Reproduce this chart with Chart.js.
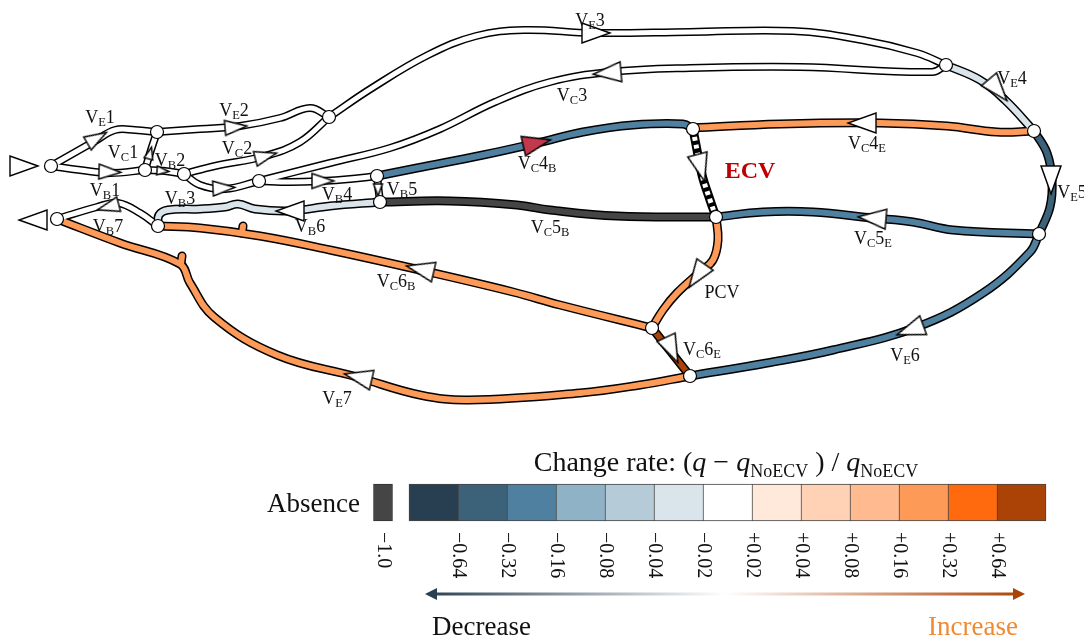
<!DOCTYPE html>
<html>
<head>
<meta charset="utf-8">
<script src="https://cdn.jsdelivr.net/npm/chart.js@4.4.1/dist/chart.umd.min.js"></script>
<style>
  html, body { margin: 0; padding: 0; background: #fff; }
  #wrap { width: 1084px; height: 640px; }
</style>
</head>
<body>
<div id="wrap"><canvas id="chart" width="1084" height="640"></canvas></div>
<script>
// colour scale of the change rate
const binEdges = [-0.64, -0.32, -0.16, -0.08, -0.04, -0.02, 0.02, 0.04, 0.08, 0.16, 0.32, 0.64];
const binTicks = ['−0.64', '−0.32', '−0.16', '−0.08', '−0.04', '−0.02', '+0.02', '+0.04', '+0.08', '+0.16', '+0.32', '+0.64'];
const binColors = ['#283f51', '#3b6279', '#4f809f', '#8fb2c7', '#b5cbd8', '#d9e4eb', '#ffffff',
                   '#ffe9db', '#ffd2b5', '#ffbb8f', '#fe9a58', '#ff6a0f', '#ac4306'];
const absenceColor = '#454545';
const absenceTick = '−1.0';

// junctions
const nodes = [[51,166],[157,132],[145,170],[184,174],[259,181],[329,117],[377,176],[380,202],
               [158,226],[57,219],[693,129],[716,217],[946,65],[1034,131],[1039,234],[652,328],[690,376]];

// vessel centre lines
const VE1 = [[51,166],[95,141],[115,130],[135,130],[157,132]];
const VB1 = [[51,166],[80,170],[110,173],[145,170]];
const VC1 = [[145,170],[151,150],[157,132]];
const VB2 = [[145,170],[165,171],[184,174]];
const VB3 = [[184,174],[200,185],[225,189],[259,181]];
const VC2 = [[184,174],[215,166],[265,156],[300,142],[329,117]];
const VE2 = [[157,132],[200,129],[240,126],[280,118],[310,108],[329,117]];
const VE3 = [[329,117],[372,88],[428,55],[476,36],[524,30],[593,33],[690,32],[793,31],[862,40],[917,53],[946,65]];
const VC3 = [[946,65],[932,72],[800,67],[690,68],[610,72],[550,82],[495,102],[440,129],[390,148],[330,163],[259,181]];
const VE4 = [[946,65],[980,80],[1005,100],[1034,131]];
const VB4 = [[259,181],[290,182],[322,181],[350,179],[377,176]];
const VB5 = [[377,176],[380,202]];
const VC4B = [[377,176],[417,168],[483,155],[537,143],[583,132],[633,125],[683,124],[693,129]];
const VC4E = [[1034,131],[997,132],[947,126],[880,123],[780,124],[693,128]];
const VE5 = [[1034,131],[1047,153],[1052,180],[1050,207],[1039,234]];
const VC5E = [[1039,234],[953,230],[913,222],[872,218],[813,212],[763,212],[716,217]];
const VC5B = [[380,202],[450,201],[517,205],[550,210],[617,216],[716,217]];
const VE6 = [[1039,234],[1030,252],[983,293],[917,327],[833,350],[767,363],[690,376]];
const VB6 = [[380,202],[330,206],[290,211],[255,209],[238,204],[225,207],[200,209],[168,210],[159,215],[158,226]];
const VB7 = [[158,226],[140,213],[118,203],[97,207],[57,219]];
const VC6B = [[652,328],[560,305],[513,292],[420,270],[330,250],[260,236],[200,228],[158,226]];
const VC6Bnub = [[242,233],[243,226]];
const PCV = [[716,217],[718,240],[713,260],[700,272],[677,293],[663,310],[652,328]];
const VC6E = [[652,328],[690,376]];
const VE7 = [[690,376],[640,385],[580,393],[469,400],[420,395],[357,377],[277,355],[214,317],[190,283],[180,264],[120,243],[57,219]];
const VE7nub = [[181,264],[182,256]];
const ECV = [[693,129],[697,150],[702,175],[710,200],[716,217]];

const veinPaths = [VE1, VB1, VC1, VB2, VB3, VC2, VE2, VE3, VC3, VE4, VB4, VB5, VC4B, VC4E, VE5,
                   VC5E, VC5B, VE6, VB6, VB7, VC6B, VC6Bnub, PCV, VC6E, VE7, VE7nub];
const veinRates = [0, 0, 0, 0, 0, 0, 0, 0, 0, -0.03, 0, 0, -0.2, 0.2, -0.4,
                   -0.2, -1.0, -0.2, -0.03, 0, 0.2, 0.2, 0.2, 0.7, 0.2, 0.2];

// flow arrows: x, y, heading (deg), size, fill
const arrows = [[24,166,0,'L','w'],[33,220,180,'L','w'],[97,138,-30,'M','w'],[110,172,2,'M','w'],
  [150,153,-75,'S','w'],[163,171,5,'S','w'],[224,188,-3,'M','w'],[266,156,-15,'M','w'],
  [236,127,-5,'M','w'],[596,33,0,'L','w'],[607,73,175,'L','w'],[998,90,50,'L','w'],
  [323,181,0,'M','w'],[378,190,90,'S','w'],[537,143,-13,'L','r'],[862,123,180,'L','w'],
  [701,168,75,'L','w'],[1051,180,90,'L','w'],[872,218,185,'L','w'],[910,330,160,'L','w'],
  [290,211,180,'L','w'],[108,207,165,'M','w'],[420,269,193,'L','w'],[697,276,125,'L','w'],
  [672,350,65,'L','w'],[358,377,193,'L','w']];

// vessel names
const labelTexts = ['V,E,1','V,B,1','V,C,1','V,B,2','V,B,3','V,C,2','V,E,2','V,B,4','V,B,5','V,B,6',
  'V,B,7','V,E,3','V,C,3','V,E,4','V,C,4,B','V,C,4,E','V,E,5','V,C,5,E','V,C,5,B','V,C,6,B',
  'PCV','V,C,6,E','V,E,6','V,E,7'];
const labelSpots = [[100,117],[105,190],[123,152],[170,160],[180,198],[237,148],[234,110],[337,194],
  [402,189],[310,226],[108,226],[590,20],[572,95],[1012,78],[537,163],[867,143],[1072,192],
  [873,238],[550,227],[396,281],[722,292],[702,349],[905,355],[337,398]];

const SERIF = '"Liberation Serif", "DejaVu Serif", serif';

function colorFor(rate) {
    if (rate <= -1) return absenceColor;
    return binColors[binEdges.filter(e => rate >= e).length];
}

function arrowImage(size, fill) {
    const dims = { L: [28, 20], M: [22, 15], S: [12, 9] }[size];
    const c = document.createElement('canvas');
    c.width = dims[0] + 4;
    c.height = dims[1] + 4;
    const g = c.getContext('2d');
    g.beginPath();
    g.moveTo(dims[0] + 2, c.height / 2);
    g.lineTo(2, 2);
    g.lineTo(2, dims[1] + 2);
    g.closePath();
    g.fillStyle = fill === 'r' ? '#c2384c' : '#ffffff';
    g.fill();
    g.lineWidth = 1.4;
    g.lineJoin = 'miter';
    g.strokeStyle = '#000';
    g.stroke();
    return c;
}

const toPts = p => p.map(([x, y]) => ({ x, y }));

const datasets = [];

datasets.push({
    data: toPts(nodes),
    pointRadius: 6.5,
    pointBackgroundColor: '#ffffff',
    pointBorderColor: '#000',
    pointBorderWidth: 1.2,
    order: 0,
});

datasets.push({
    data: arrows.map(a => ({ x: a[0], y: a[1] })),
    pointStyle: arrows.map(a => arrowImage(a[3], a[4])),
    pointRotation: arrows.map(a => a[2]),
    pointRadius: 5,
    order: 1,
});

veinPaths.forEach((path, i) => {
    const white = veinRates[i] === 0;
    datasets.push({
        data: toPts(path), showLine: true, pointRadius: 0, tension: 0.4,
        borderColor: '#000', borderWidth: white ? 8 : 9, borderCapStyle: 'round', order: 4,
    });
    datasets.push({
        data: toPts(path), showLine: true, pointRadius: 0, tension: 0.4,
        borderColor: colorFor(veinRates[i]), borderWidth: white ? 5 : 6, borderCapStyle: 'round', order: 3,
    });
});

// the new vessel, drawn striped
datasets.push({
    data: toPts(ECV), showLine: true, pointRadius: 0, tension: 0.4,
    borderColor: '#000', borderWidth: 9, order: 4,
});
datasets.push({
    data: toPts(ECV), showLine: true, pointRadius: 0, tension: 0.4,
    borderColor: '#fff', borderWidth: 5, borderDash: [4, 4], order: 2,
});

// colour bar
const cbLeft = 409, cbRight = 1046, cbTop = 484, cbBottom = 521;
const cellW = (cbRight - cbLeft) / binColors.length;

datasets.push({
    type: 'bar',
    data: binColors.map((c, i) => ({ x: cbLeft + cellW * (i + 0.5), y: [cbTop, cbBottom] })),
    backgroundColor: binColors,
    borderColor: '#444',
    borderWidth: ctx => ({ top: 1, bottom: 1, left: 1, right: ctx.dataIndex === binColors.length - 1 ? 1 : 0 }),
    borderSkipped: false,
    barThickness: cellW,
    grouped: false,
    order: 5,
});
datasets.push({
    type: 'bar',
    data: [{ x: 383, y: [cbTop, cbBottom] }],
    backgroundColor: absenceColor,
    borderColor: '#333',
    borderWidth: 1,
    borderSkipped: false,
    barThickness: 19,
    grouped: false,
    order: 5,
});

function drawVeinLabel(ctx, text, x, y) {
    const parts = text.split(',');
    const big = 18, small = 12.5;
    let total = 0;
    const widths = parts.map((p, i) => {
        ctx.font = (i % 2 ? small : big) + 'px ' + SERIF;
        const w = ctx.measureText(p).width;
        total += w;
        return w;
    });
    let cx = x - total / 2;
    parts.forEach((p, i) => {
        ctx.font = (i % 2 ? small : big) + 'px ' + SERIF;
        ctx.fillText(p, cx, y + 6 + (i % 2 ? 3 : 0));
        cx += widths[i];
    });
}

const annotate = {
    id: 'annotate',
    afterDatasetsDraw(chart) {
        const { ctx, scales: { x, y } } = chart;
        const px = v => x.getPixelForValue(v);
        const py = v => y.getPixelForValue(v);
        ctx.save();
        ctx.fillStyle = '#111';
        ctx.textAlign = 'left';
        ctx.textBaseline = 'alphabetic';
        labelTexts.forEach((t, i) => drawVeinLabel(ctx, t, px(labelSpots[i][0]), py(labelSpots[i][1])));

        ctx.font = 'bold 24px ' + SERIF;
        ctx.fillStyle = '#c00000';
        ctx.textAlign = 'center';
        ctx.fillText('ECV', px(750), py(178));

        // colour bar title
        const title = [['Change rate: (', ''], ['q', 'i'], [' − ', ''], ['q', 'i'], ['NoECV', 's'],
                       [' ) / ', ''], ['q', 'i'], ['NoECV', 's']];
        const fontOf = k => k === 'i' ? 'italic 28px ' + SERIF : k === 's' ? '18px ' + SERIF : '28px ' + SERIF;
        let tw = 0;
        title.forEach(([s, k]) => { ctx.font = fontOf(k); tw += ctx.measureText(s).width; });
        let tx = px(726) - tw / 2;
        ctx.textAlign = 'left';
        ctx.fillStyle = '#111';
        title.forEach(([s, k]) => {
            ctx.font = fontOf(k);
            ctx.fillText(s, tx, py(k === 's' ? 477 : 471));
            tx += ctx.measureText(s).width;
        });

        ctx.font = '27px ' + SERIF;
        ctx.textAlign = 'right';
        ctx.fillText('Absence', px(360), py(512));

        // rotated tick labels
        ctx.font = '20px ' + SERIF;
        ctx.textAlign = 'left';
        ctx.textBaseline = 'middle';
        const tick = (s, xv) => {
            ctx.save();
            ctx.translate(px(xv), py(532));
            ctx.rotate(Math.PI / 2);
            ctx.fillText(s, 0, 0);
            ctx.restore();
        };
        tick(absenceTick, 383);
        binTicks.forEach((s, i) => tick(s, cbLeft + cellW * (i + 1)));

        // decrease / increase arrow
        const ay = py(594), ax0 = px(425), ax1 = px(1025);
        const grad = ctx.createLinearGradient(ax0, 0, ax1, 0);
        grad.addColorStop(0, binColors[0]);
        grad.addColorStop(0.5, '#ffffff');
        grad.addColorStop(1, binColors[binColors.length - 1]);
        ctx.strokeStyle = grad;
        ctx.lineWidth = 3;
        ctx.beginPath();
        ctx.moveTo(ax0 + 8, ay);
        ctx.lineTo(ax1 - 8, ay);
        ctx.stroke();
        ctx.fillStyle = binColors[0];
        ctx.beginPath();
        ctx.moveTo(ax0, ay); ctx.lineTo(ax0 + 12, ay - 6); ctx.lineTo(ax0 + 12, ay + 6); ctx.closePath();
        ctx.fill();
        ctx.fillStyle = binColors[binColors.length - 1];
        ctx.beginPath();
        ctx.moveTo(ax1, ay); ctx.lineTo(ax1 - 12, ay - 6); ctx.lineTo(ax1 - 12, ay + 6); ctx.closePath();
        ctx.fill();

        ctx.textBaseline = 'alphabetic';
        ctx.font = '27px ' + SERIF;
        ctx.fillStyle = '#111';
        ctx.textAlign = 'left';
        ctx.fillText('Decrease', px(432), py(635));
        ctx.fillStyle = '#f08a32';
        ctx.textAlign = 'right';
        ctx.fillText('Increase', px(1018), py(635));
        ctx.restore();
    }
};

new Chart(document.getElementById('chart'), {
    type: 'scatter',
    data: { datasets },
    options: {
        responsive: false,
        animation: false,
        devicePixelRatio: 1,
        events: [],
        clip: false,
        layout: { autoPadding: false, padding: 0 },
        scales: {
            x: { type: 'linear', min: 0, max: 1084, offset: false, display: false },
            y: { type: 'linear', min: 0, max: 640, reverse: true, offset: false, display: false },
        },
        plugins: {
            legend: { display: false },
            tooltip: { enabled: false },
        },
    },
    plugins: [annotate],
});
</script>
</body>
</html>
